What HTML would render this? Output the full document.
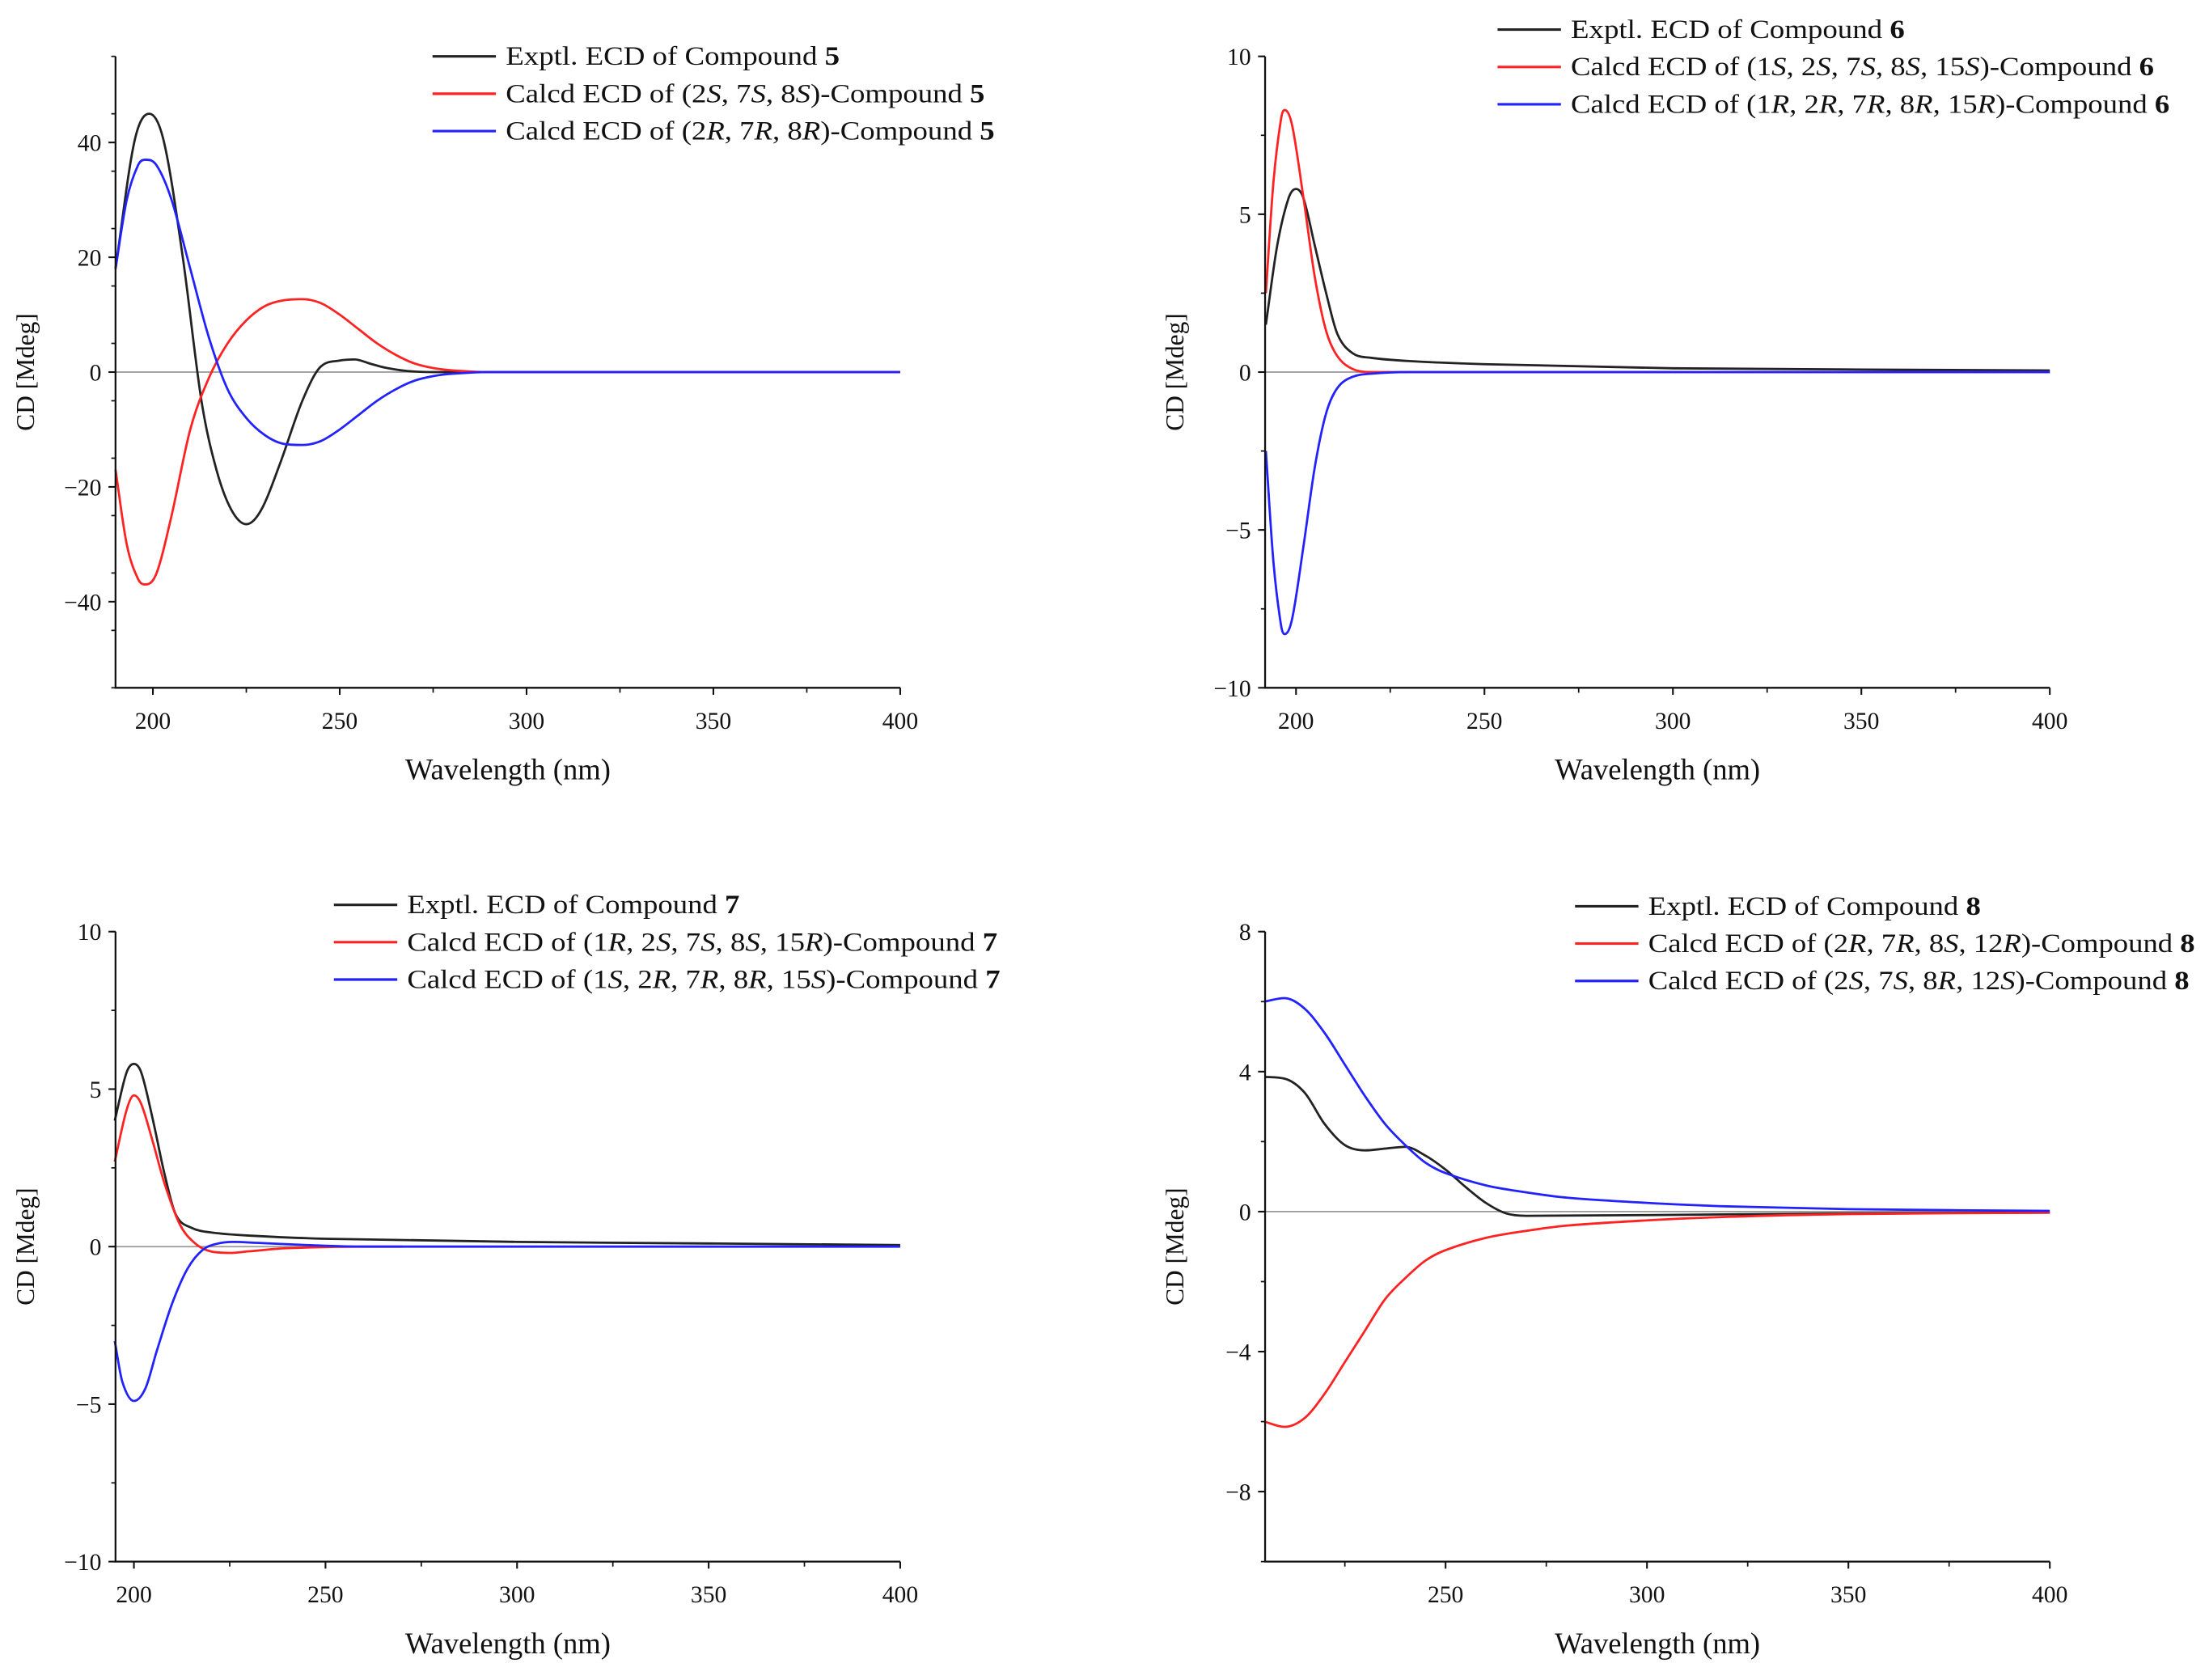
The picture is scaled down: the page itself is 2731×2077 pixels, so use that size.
<!DOCTYPE html>
<html><head><meta charset="utf-8"><style>
html,body{margin:0;padding:0;background:#fff}
svg{display:block}
text{font-family:"Liberation Serif","Times New Roman",serif;fill:#111}
</style></head><body>
<svg id="fig" width="2731" height="2077" viewBox="0 0 1568 1192" preserveAspectRatio="none" font-family="Liberation Serif, serif" xmlns="http://www.w3.org/2000/svg"></svg>
<script>
// ---- Panel A: compound 5 ----
const aExpX=[190,195,199,203,208,213,217,221,225,229,234,240,245,250,254,258,262,268,275,400];
const aExpY=[18,40,45,40,20,-5,-17,-24,-26.5,-24,-16,-5,1,2,2.2,1.5,0.8,0.2,0,0];
const aRedX=[190,193,196,198,201,205,210,215,220,225,230,235,240,245,250,255,260,265,270,275,280,290,400];
const aRedY=[-17,-30,-36,-37,-35,-25,-10,-1,5,9,11.5,12.5,12.7,12,10,7.5,5,3,1.5,0.7,0.3,0,0];
const aBluX=[190,193,196,198,201,205,210,215,220,225,230,235,240,245,250,255,260,265,270,275,280,290,400];
const aBluY=[18,30,36,37,36,30,18,6,-3,-8,-11,-12.5,-12.7,-12,-10,-7.5,-5,-3,-1.5,-0.7,-0.3,0,0];
const aYTicks=[-40,-20,0,20,40];
const aXTicks=[200,250,300,350,400];
// ---- Panel B: compound 6 ----
const bExpX=[192,195,198,200,202,205,208,211,215,220,230,250,300,350,400];
const bExpY=[1.5,4,5.5,5.8,5.5,4,2.5,1.2,0.6,0.45,0.35,0.25,0.12,0.08,0.05];
const bRedX=[192,194,196,197,199,202,205,208,211,215,220,400];
const bRedY=[2.5,6,8,8.3,7.8,5.5,3,1.3,0.5,0.1,0,0];
const bBluX=[192,194,196,197,199,202,205,208,211,215,220,230,400];
const bBluY=[-2.5,-6,-8,-8.3,-7.8,-5.5,-3,-1.3,-0.5,-0.15,-0.05,0,0];
const bYTicks=[-10,-5,0,5,10];
const bXTicks=[200,250,300,350,400];
// ---- Panel C: compound 7 ----
const cExpX=[195,198,200,202,205,208,211,215,220,230,250,300,350,400];
const cExpY=[4,5.5,5.8,5.5,4,2.3,1,0.6,0.45,0.35,0.25,0.15,0.1,0.05];
const cRedX=[195,198,200,202,205,208,212,216,220,225,230,240,260,270];
const cRedY=[2.7,4.3,4.8,4.5,3.3,2,0.7,0.1,-0.15,-0.2,-0.15,-0.05,0,0];
const cBluX=[195,197,200,203,206,210,214,218,222,226,232,245,260,400];
const cBluY=[-3,-4.3,-4.9,-4.5,-3.3,-1.8,-0.7,-0.1,0.1,0.15,0.12,0.05,0,0];
const cYTicks=[-10,-5,0,5,10];
const cXTicks=[200,250,300,350,400];
// ---- Panel D: compound 8 ----
const dExpX=[205,210,215,220,225,230,235,240,245,250,255,260,265,270,300,350,400];
const dExpY=[3.85,3.8,3.4,2.5,1.9,1.75,1.8,1.85,1.6,1.2,0.7,0.25,-0.05,-0.12,-0.1,-0.05,-0.03];
const dBluX=[205,210,215,220,225,230,235,240,245,250,260,270,280,300,320,350,400];
const dBluY=[6,6.1,5.8,5.1,4.2,3.3,2.5,1.9,1.4,1.1,0.75,0.55,0.4,0.25,0.15,0.07,0.02];
const dRedX=[205,210,215,220,225,230,235,240,245,250,260,270,280,300,320,350,400];
const dRedY=[-6,-6.15,-5.9,-5.2,-4.3,-3.4,-2.5,-1.9,-1.4,-1.1,-0.75,-0.55,-0.4,-0.25,-0.15,-0.07,-0.03];
const dYTicks=[-8,-4,0,4,8];
const dXTicks=[250,300,350,400];

const NS="http://www.w3.org/2000/svg";
const svg=document.getElementById('fig');
function mk(tag,attrs,parent){const e=document.createElementNS(NS,tag);for(const k in attrs)e.setAttribute(k,attrs[k]);(parent||svg).appendChild(e);return e;}

function smoothPath(pts){
  const n=pts.length, m=[];
  for(let i=0;i<n;i++){
    const a=pts[Math.max(0,i-1)], b=pts[Math.min(n-1,i+1)];
    m.push((b[1]-a[1])/(b[0]-a[0]));
  }
  for(let i=0;i<n-1;i++){
    const d=(pts[i+1][1]-pts[i][1])/(pts[i+1][0]-pts[i][0]);
    if(d===0){m[i]=0;m[i+1]=0;continue;}
    const a=m[i]/d,b=m[i+1]/d;
    if(a<0)m[i]=0; if(b<0)m[i+1]=0;
    const s=a*a+b*b; if(s>9){const t=3/Math.sqrt(s);m[i]=t*a*d;m[i+1]=t*b*d;}
  }
  for(let i=1;i<n-1;i++){
    const d0=pts[i][1]-pts[i-1][1], d1=pts[i+1][1]-pts[i][1];
    if(d0*d1<0)m[i]=0;
  }
  let d='M'+pts[0][0].toFixed(2)+','+pts[0][1].toFixed(2);
  for(let i=0;i<n-1;i++){
    const p1=pts[i],p2=pts[i+1],h=(p2[0]-p1[0])/3;
    d+='C'+(p1[0]+h).toFixed(2)+','+(p1[1]+m[i]*h).toFixed(2)+' '+(p2[0]-h).toFixed(2)+','+(p2[1]-m[i+1]*h).toFixed(2)+' '+p2[0].toFixed(2)+','+p2[1].toFixed(2);
  }
  return d;
}

function panel(cfg){
  const g=mk('g',{});
  
  
  const {L,R,T,B,xmin,xmax,ymin,ymax}=cfg;
  const sx=v=>L+(v-xmin)/(xmax-xmin)*(R-L);
  const sy=v=>B-(v-ymin)/(ymax-ymin)*(B-T);
  const z=mk('line',{x1:L,x2:R,y1:sy(0),y2:sy(0),stroke:'#999','stroke-width':1},g);
  
  
  cfg.series.forEach(s=>{
    const pts=s.x.map((v,i)=>[sx(v),sy(s.y[i])]);
    const p=mk('path',{d:smoothPath(pts),fill:'none',stroke:s.color,'stroke-width':1.6,'stroke-linejoin':'round'},g);
    
    
  });
  const ax=mk('path',{d:`M${L},${T}V${B}H${R}`,fill:'none',stroke:'#111','stroke-width':1.3},g);
  
  
  cfg.yTicks.forEach(v=>{
    mk('line',{x1:L-5,x2:L,y1:sy(v),y2:sy(v),stroke:'#111','stroke-width':1.2},g);
    const t=mk('text',{x:L-10,y:sy(v)+6,'text-anchor':'end','font-size':17},g);
    t.textContent=v<0?'\u2212'+Math.abs(v):String(v);
    
    
  });
  for(let v=ymin;v<=ymax+1e-9;v+=cfg.yMinor){
    mk('line',{x1:L-3,x2:L,y1:sy(v),y2:sy(v),stroke:'#111','stroke-width':1},g);
  }
  cfg.xTicks.forEach(v=>{
    mk('line',{x1:sx(v),x2:sx(v),y1:B,y2:B+5,stroke:'#111','stroke-width':1.2},g);
    const t=mk('text',{x:sx(v),y:B+29,'text-anchor':'middle','font-size':17},g);
    t.textContent=String(v);
    
    
  });
  for(let v=225;v<=400;v+=50){ if(v>xmin) mk('line',{x1:sx(v),x2:sx(v),y1:B,y2:B+3.5,stroke:'#111','stroke-width':1},g); }
  const xt=mk('text',{x:(L+R)/2,y:B+65,'text-anchor':'middle','font-size':21},g);
  xt.textContent='Wavelength (nm)';
  
  
  const yt=mk('text',{x:0,y:0,'text-anchor':'middle','font-size':18,transform:`translate(${L-58},${(T+B)/2}) rotate(-90)`},g);
  yt.textContent='CD [Mdeg]';
  
  
  cfg.legend.forEach((row,i)=>{
    const y=cfg.legY+i*26.5;
    mk('line',{x1:cfg.legX,x2:cfg.legX+45,y1:y,y2:y,stroke:cfg.series[i].color,'stroke-width':1.8},g);
    const t=mk('text',{x:cfg.legX+52,y:y+6,'font-size':19,textLength:row.w,lengthAdjust:'spacingAndGlyphs'},g);
    t.innerHTML=row.html;
    
    
  });
}
const I=s=>`<tspan font-style="italic">${s}</tspan>`;
const Bd=s=>`<tspan font-weight="bold">${s}</tspan>`;

panel({name:'panel-compound-5',L:82,R:639,T:40,B:488,xmin:190,xmax:400,ymin:-55,ymax:55,yMinor:10,
  yTicks:aYTicks,xTicks:aXTicks,legX:307,legY:40,
  series:[{name:'expt-line',color:'#222',x:aExpX,y:aExpY},{name:'calc-2s7s8s-line',color:'#f22',x:aRedX,y:aRedY},{name:'calc-2r7r8r-line',color:'#22f',x:aBluX,y:aBluY}],
  legend:[{w:237,html:'Exptl. ECD of Compound '+Bd('5')},
          {w:340,html:'Calcd ECD of (2'+I('S')+', 7'+I('S')+', 8'+I('S')+')-Compound '+Bd('5')},
          {w:347,html:'Calcd ECD of (2'+I('R')+', 7'+I('R')+', 8'+I('R')+')-Compound '+Bd('5')}]});
panel({name:'panel-compound-6',L:898,R:1455,T:40,B:488,xmin:191.8,xmax:400,ymin:-10,ymax:10,yMinor:2.5,
  yTicks:bYTicks,xTicks:bXTicks,legX:1063,legY:21,
  series:[{name:'expt-line',color:'#222',x:bExpX,y:bExpY},{name:'calc-s-line',color:'#f22',x:bRedX,y:bRedY},{name:'calc-r-line',color:'#22f',x:bBluX,y:bBluY}],
  legend:[{w:237,html:'Exptl. ECD of Compound '+Bd('6')},
          {w:414,html:'Calcd ECD of (1'+I('S')+', 2'+I('S')+', 7'+I('S')+', 8'+I('S')+', 15'+I('S')+')-Compound '+Bd('6')},
          {w:425,html:'Calcd ECD of (1'+I('R')+', 2'+I('R')+', 7'+I('R')+', 8'+I('R')+', 15'+I('R')+')-Compound '+Bd('6')}]});
panel({name:'panel-compound-7',L:82,R:639,T:661,B:1108,xmin:195.2,xmax:400,ymin:-10,ymax:10,yMinor:2.5,
  yTicks:cYTicks,xTicks:cXTicks,legX:237,legY:642,
  series:[{name:'expt-line',color:'#222',x:cExpX,y:cExpY},{name:'calc-1r2s-line',color:'#f22',x:cRedX,y:cRedY},{name:'calc-1s2r-line',color:'#22f',x:cBluX,y:cBluY}],
  legend:[{w:236,html:'Exptl. ECD of Compound '+Bd('7')},
          {w:419,html:'Calcd ECD of (1'+I('R')+', 2'+I('S')+', 7'+I('S')+', 8'+I('S')+', 15'+I('R')+')-Compound '+Bd('7')},
          {w:421,html:'Calcd ECD of (1'+I('S')+', 2'+I('R')+', 7'+I('R')+', 8'+I('R')+', 15'+I('S')+')-Compound '+Bd('7')}]});
panel({name:'panel-compound-8',L:898,R:1455,T:661,B:1108,xmin:205.2,xmax:400,ymin:-10,ymax:8,yMinor:2,
  yTicks:dYTicks,xTicks:dXTicks,legX:1118,legY:643,
  series:[{name:'expt-line',color:'#222',x:dExpX,y:dExpY},{name:'calc-2r7r-line',color:'#f22',x:dRedX,y:dRedY},{name:'calc-2s7s-line',color:'#22f',x:dBluX,y:dBluY}],
  legend:[{w:236,html:'Exptl. ECD of Compound '+Bd('8')},
          {w:388,html:'Calcd ECD of (2'+I('R')+', 7'+I('R')+', 8'+I('S')+', 12'+I('R')+')-Compound '+Bd('8')},
          {w:384,html:'Calcd ECD of (2'+I('S')+', 7'+I('S')+', 8'+I('R')+', 12'+I('S')+')-Compound '+Bd('8')}]});
</script>
</body></html>
